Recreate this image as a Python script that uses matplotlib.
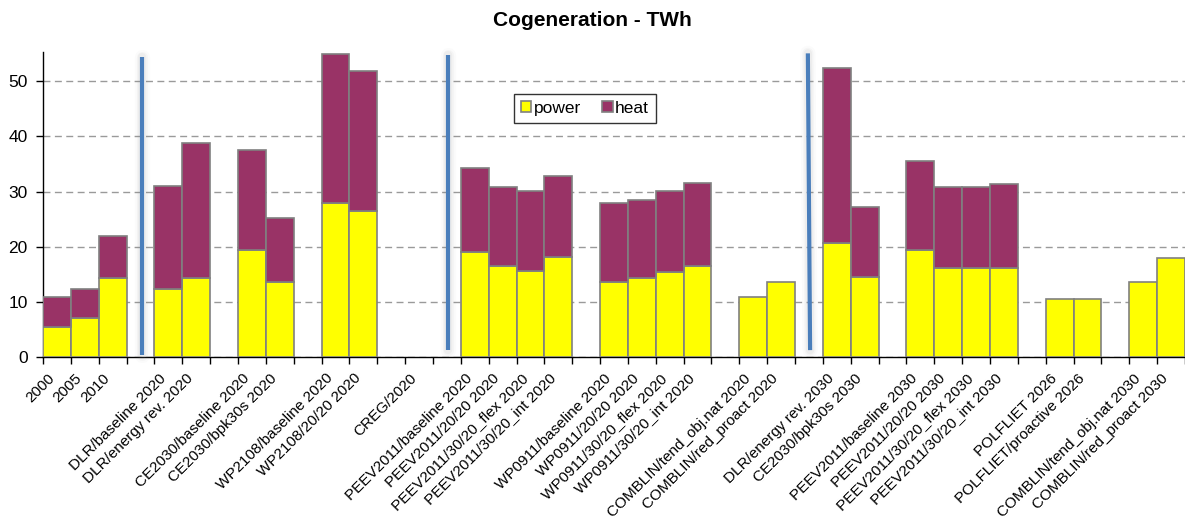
import numpy as np
import matplotlib
matplotlib.use("Agg")
import matplotlib.pyplot as plt
from matplotlib.patches import Patch

plt.rcParams["font.family"] = ["Liberation Sans", "DejaVu Sans"]

# Scenario / year categories (empty strings are spacer slots between studies)
categories = [
    "2000", "2005", "2010", "",
    "DLR/baseline 2020", "DLR/energy rev. 2020", "",
    "CE2030/baseline 2020", "CE2030/bpk30s 2020", "",
    "WP2108/baseline 2020", "WP2108/20/20 2020", "",
    "CREG/2020", "",
    "PEEV2011/baseline 2020", "PEEV2011/20/20 2020",
    "PEEV2011/30/20_flex 2020", "PEEV2011/30/20_int 2020", "",
    "WP0911/baseline 2020", "WP0911/20/20 2020",
    "WP0911/30/20_flex 2020", "WP0911/30/20_int 2020", "",
    "COMBLIN/tend_obj.nat 2020", "COMBLIN/red_proact 2020", "",
    "DLR/energy rev. 2030", "CE2030/bpk30s 2030", "",
    "PEEV2011/baseline 2030", "PEEV2011/20/20 2030",
    "PEEV2011/30/20_flex 2030", "PEEV2011/30/20_int 2030", "",
    "POLFLIET 2026", "POLFLIET/proactive 2026", "",
    "COMBLIN/tend_obj.nat 2030", "COMBLIN/red_proact 2030",
]

# Cogeneration output, TWh (0 = no data)
power = [
    5.5, 7.2, 14.3, 0,
    12.3, 14.4, 0,
    19.4, 13.6, 0,
    27.9, 26.5, 0,
    0, 0,
    19.1, 16.6, 15.7, 18.1, 0,
    13.7, 14.3, 15.4, 16.6, 0,
    10.85, 13.6, 0,
    20.6, 14.5, 0,
    19.4, 16.2, 16.2, 16.2, 0,
    10.6, 10.6, 0,
    13.6, 17.9,
]
heat = [
    5.5, 5.1, 7.7, 0,
    18.7, 24.4, 0,
    18.1, 11.6, 0,
    26.9, 25.3, 0,
    0, 0,
    15.1, 14.3, 14.4, 14.7, 0,
    14.3, 14.1, 14.7, 15.0, 0,
    0, 0, 0,
    31.8, 12.7, 0,
    16.1, 14.7, 14.7, 15.2, 0,
    0, 0, 0,
    0, 0,
]

# Period separators: (x at bottom, x at top, y bottom, y top)
separators = [
    (3.07, 3.07, 0.4, 54.4),
    (14.04, 14.04, 1.3, 54.7),
    (27.04, 26.96, 1.3, 55.0),
]

POWER_C = "#FFFF00"
HEAT_C = "#993366"
EDGE_C = "#808080"

W, H = 1185, 521
fig = plt.figure(figsize=(W / 100, H / 100), dpi=100)
ax = fig.add_axes([43 / W, 1 - 357.3 / H, (W - 43) / W, (357.3 - 51.7) / H])

x = np.arange(len(categories))
p = np.array(power, dtype=float)
h = np.array(heat, dtype=float)

mp = p > 0
ax.bar(x[mp], p[mp], width=1.0, color=POWER_C, edgecolor=EDGE_C,
       linewidth=1.2, zorder=3)
mh = h > 0
ax.bar(x[mh], h[mh], bottom=p[mh], width=1.0, color=HEAT_C,
       edgecolor=EDGE_C, linewidth=1.2, zorder=3)

# Separator lines with a soft shadow
for xb, xt, yb, yt in separators:
    for lw, a in [(11, 0.03), (8, 0.05), (6, 0.07)]:
        ax.plot([xb, xt], [yb, yt], color="#888888", lw=lw, alpha=a,
                solid_capstyle="round", zorder=4, clip_on=False)
    ax.plot([xb, xt], [yb, yt], color="#4A7EBB", lw=3.0,
            solid_capstyle="butt", zorder=5, clip_on=False)

ax.set_xlim(-0.5, len(categories) - 0.5)
ax.set_ylim(0, 55.3)

ax.set_yticks([0, 10, 20, 30, 40, 50])
ax.tick_params(axis="y", length=5, width=1, direction="out", pad=6,
               labelsize=12.5, colors="black")
ax.yaxis.grid(True, linestyle=(0, (5, 3.2)), color="#9a9a9a", linewidth=1.0,
              zorder=0)
ax.set_axisbelow(True)

ax.set_xticks(x)
ax.set_xticklabels(categories, rotation=45, ha="right", fontsize=11)
ax.tick_params(axis="x", which="major", length=0, pad=10)
ax.set_xticks(np.arange(-0.5, len(categories), 1.0), minor=True)
ax.tick_params(axis="x", which="minor", length=5, width=1, direction="out")

for s in ("top", "right"):
    ax.spines[s].set_visible(False)
for s in ("left", "bottom"):
    ax.spines[s].set_color("black")
    ax.spines[s].set_linewidth(1.0)

handles = [Patch(facecolor=POWER_C, edgecolor=EDGE_C, linewidth=1.2),
           Patch(facecolor=HEAT_C, edgecolor=EDGE_C, linewidth=1.2)]
leg = ax.legend(handles, ["power", "heat"], loc="center",
                bbox_to_anchor=(0.4746, 0.814), ncol=2, frameon=True,
                fancybox=False, edgecolor="black", fontsize=12.5,
                handlelength=0.6, handleheight=0.6, handletextpad=0.15,
                columnspacing=1.2, borderpad=0.4, borderaxespad=0)
leg.get_frame().set_linewidth(1.0)

fig.text(0.5, 1 - 21 / H, "Cogeneration - TWh", ha="center", va="center",
         fontsize=15, fontweight="bold")

fig.savefig("out.png", dpi=100)
